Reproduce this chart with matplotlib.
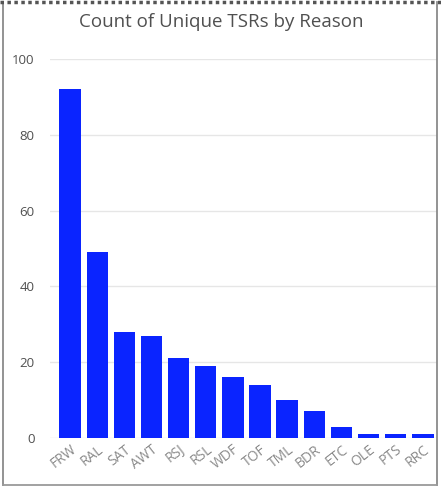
import matplotlib.pyplot as plt
from matplotlib.lines import Line2D

reasons = ['FRW', 'RAL', 'SAT', 'AWT', 'RSJ', 'RSL', 'WDF', 'TOF', 'TML',
           'BDR', 'ETC', 'OLE', 'PTS', 'RRC']
counts = [92, 49, 28, 27, 21, 19, 16, 14, 10, 7, 3, 1, 1, 1]
y_ticks = [0, 20, 40, 60, 80, 100]

plt.rcParams['font.family'] = ['Open Sans', 'DejaVu Sans']

fig = plt.figure(figsize=(4.41, 4.88), dpi=100)
ax = fig.add_axes([50 / 441, 50 / 488, 387 / 441, 379 / 488])

ax.bar(range(len(reasons)), counts, width=0.79, color='#0A24FF', zorder=3)
ax.set_xlim(-0.74, 13.52)
ax.set_ylim(0, 100)

ax.set_yticks(y_ticks)
ax.set_yticklabels([str(v) for v in y_ticks], fontsize=9.5, color='#505050')
ax.set_xticks(range(len(reasons)))
ax.set_xticklabels(reasons, rotation=38, ha='right', rotation_mode='anchor',
                   fontsize=10, color='#8a8a8a')
ax.tick_params(axis='both', length=0)
ax.tick_params(axis='y', pad=11)
ax.tick_params(axis='x', pad=3)

ax.grid(axis='y', color='#e6e6e6', linewidth=1, zorder=0)
for s in ax.spines.values():
    s.set_visible(False)

fig.text(221 / 441, 1 - 22 / 488, 'Count of Unique TSRs by Reason',
         ha='center', va='center', fontsize=13.5, color='#505050')

# panel frame: solid sides and bottom, dotted top edge
def frame_line(xs, ys, **kw):
    fig.lines.append(Line2D([x / 441 for x in xs], [1 - y / 488 for y in ys],
                            transform=fig.transFigure, **kw))

frame_line([3, 3], [2, 485], color='#8a8a8a', linewidth=1.3)
frame_line([437, 437], [2, 485], color='#8a8a8a', linewidth=1.3)
frame_line([3, 437], [485, 485], color='#9a9a9a', linewidth=1.3)
frame_line([0, 441], [2, 2], color='#555555', linewidth=2.5,
           linestyle=(0, (1, 1)))

fig.savefig('out.png', dpi=100)
